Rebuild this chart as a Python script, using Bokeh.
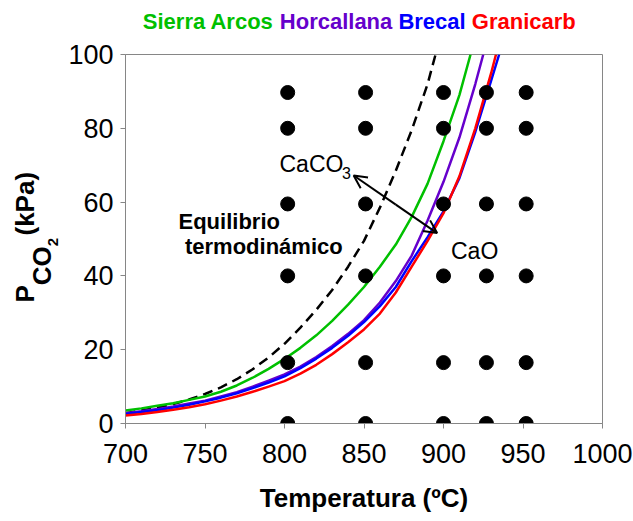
import math
from bokeh.plotting import figure
from bokeh.layouts import column, row
from bokeh.models import Arrow, OpenHead, Range1d, FixedTicker
from bokeh.core.properties import value
from bokeh.embed import file_html
from bokeh.resources import INLINE

FONT = "Liberation Sans"

# ---- data ----
x_ticks = [700, 750, 800, 850, 900, 950, 1000]
y_ticks = [0, 20, 40, 60, 80, 100]

# experimental conditions (grid of points)
exp_T = [802, 851, 900, 927, 952]
exp_P = [0, 16.5, 40, 59.5, 80, 89.7]

# thermodynamic equilibrium (dashed)
eq_T = [700, 710, 720, 730, 740, 750, 760, 770, 780, 790, 800, 810, 820, 830, 840,
        850, 860, 870, 880, 890, 895]
eq_P = [2.8, 3.5, 4.3, 5.3, 6.5, 8.0, 9.8, 12.0, 14.7, 17.9, 21.6, 26, 30.8, 36.2, 42.5,
        49.5, 58.5, 68.5, 79.5, 92, 100]

# Sierra Arcos
sa_T = [700, 710, 720, 730, 740, 750, 760, 770, 780, 790, 800, 810, 820, 830, 840,
        850, 860, 870, 880, 890, 900, 910, 917]
sa_P = [3.5, 4.1, 4.8, 5.5, 6.4, 7.3, 8.6, 10.3, 12.4, 14.8, 17.5, 20.5, 23.9, 27.8, 32.2,
        37, 42.5, 48.5, 56, 65, 76.5, 89, 100]

# Horcallana
ho_T = [700, 710, 720, 730, 740, 750, 760, 770, 780, 790, 800, 810, 820, 830, 840,
        850, 860, 870, 880, 890, 900, 910, 920, 925]
ho_P = [2.8, 3.3, 3.9, 4.6, 5.4, 6.2, 7.3, 8.5, 10.0, 11.6, 13.3, 15.4, 18.0, 21.0, 24.3,
        28, 32.8, 38.6, 45.5, 55, 65.5, 77.5, 92, 100]

# Brecal
br_T = [700, 710, 720, 730, 740, 750, 760, 770, 780, 790, 800, 810, 820, 830, 840,
        850, 860, 870, 880, 890, 900, 910, 920, 930, 935]
br_P = [2.6, 3.1, 3.6, 4.3, 5.1, 6.0, 7.0, 8.2, 9.6, 11.1, 12.8, 15.0, 17.6, 20.5, 23.8,
        27.5, 31.8, 37, 44, 50.5, 57.5, 66.5, 79, 93, 100]

# Granicarb
gr_T = [700, 710, 720, 730, 740, 750, 760, 770, 780, 790, 800, 810, 820, 830, 840,
        850, 860, 870, 880, 890, 900, 910, 920, 930, 933]
gr_P = [2.2, 2.6, 3.1, 3.7, 4.4, 5.2, 6.2, 7.3, 8.6, 10.0, 11.5, 13.5, 15.9, 18.8, 22.0,
        25.5, 29.8, 35.5, 42.5, 49.5, 57, 67, 80, 95, 100]

series_names = ["Sierra Arcos", "Horcallana", "Brecal", "Granicarb"]
series_colors = ["#00C000", "#6600CC", "#0000FF", "#FF0000"]

# ---- layout geometry (page pixels) ----
W, H = 633, 521
TOP_H = 36          # height of the title strip
YL_W = 60           # width of the y-title strip
F_L, F_T, F_R, F_B = 125, 54, 602, 423   # plot frame
MID = 0.3465        # distance (em) from baseline to text-box middle

X_RANGE = Range1d(700, 1000)
Y_RANGE = Range1d(0, 100)


def dx(px):
    return 700 + (px - F_L) * 300 / (F_R - F_L)


def dy(py):
    return (F_B - py) * 100 / (F_B - F_T)


def strip(w, h, x_range, y_range):
    f = figure(width=w, height=h, x_range=x_range, y_range=y_range,
               output_backend="svg", toolbar_location=None, min_border=0,
               x_axis_type=None, y_axis_type=None, title=None)
    f.outline_line_color = None
    f.xgrid.visible = False
    f.ygrid.visible = False
    return f


# ---- title strip with coloured words (data space = page pixels, y upward) ----
t = strip(W, TOP_H, Range1d(0, W), Range1d(0, TOP_H))
title_x = [142.3, 279.3, 397.9, 471.3]
title_base = 28.3
t.text(x=title_x, y=[TOP_H - (title_base - MID * 22)] * 4, text=series_names,
       text_color=series_colors, text_font=value(FONT), text_font_size="22px",
       text_font_style="bold", text_align="left", text_baseline="middle")

# ---- y title strip (shares the vertical data range with the plot) ----
yh = H - TOP_H
yl = strip(YL_W, yh, Range1d(0, YL_W), Y_RANGE)
ylab_text = ["P", "CO", "2", "(kPa)"]
ylab_size_px = [26, 26, 15, 26]
ylab_base_x = [33.5, 50.5, 57.5, 33.5]       # baseline position (page px)
ylab_x = [b - MID * s for b, s in zip(ylab_base_x, ylab_size_px)]
ylab_y = [dy(302), dy(284.7), dy(245.7), dy(235)]
yl.text(x=ylab_x, y=ylab_y, text=ylab_text, angle=math.pi / 2,
        text_font=value(FONT), text_font_size=[f"{s}px" for s in ylab_size_px],
        text_font_style="bold", text_color="black", text_align="left",
        text_baseline="middle")

# ---- main plot ----
pw = W - YL_W
p = figure(width=pw, height=yh, x_range=X_RANGE, y_range=Y_RANGE,
           output_backend="svg", toolbar_location=None,
           min_border_left=F_L - YL_W, min_border_right=W - F_R,
           min_border_top=F_T - TOP_H, min_border_bottom=yh - (F_B - TOP_H))
p.xgrid.visible = False
p.ygrid.visible = False
p.outline_line_color = "#868686"
p.outline_line_width = 1

for ax, ticks in ((p.xaxis, x_ticks), (p.yaxis, y_ticks)):
    ax.ticker = FixedTicker(ticks=ticks)
    ax.axis_line_color = "#868686"
    ax.major_tick_line_color = "#868686"
    ax.major_tick_out = 5
    ax.major_tick_in = 0
    ax.minor_tick_out = 0
    ax.minor_tick_in = 0
    ax.major_label_text_font = FONT
    ax.major_label_text_font_size = "27px"
    ax.major_label_text_color = "black"
p.xaxis.major_label_standoff = 15
p.yaxis.major_label_standoff = 7
p.xaxis.axis_label = "Temperatura (ºC)"
p.xaxis.axis_label_text_font = FONT
p.xaxis.axis_label_text_font_size = "26px"
p.xaxis.axis_label_text_font_style = "bold"
p.xaxis.axis_label_text_color = "black"
p.xaxis.axis_label_standoff = 17

# curves
p.line(eq_T, eq_P, line_color="black", line_width=2.5, line_dash="10 6",
       line_join="round")
for T, P, c in ((sa_T, sa_P, series_colors[0]), (ho_T, ho_P, series_colors[1]),
                (br_T, br_P, series_colors[2]), (gr_T, gr_P, series_colors[3])):
    p.line(T, P, line_color=c, line_width=2.5, line_join="round")

# experimental points
pts_T = [tt for tt in exp_T for _ in exp_P]
pts_P = [v for _ in exp_T for v in exp_P]
p.scatter(pts_T, pts_P, size=14, color="black")

# double-headed arrow CaCO3 <-> CaO
arrow_mid = (870, 59.3)
arrow_ends = [(843.5, 67.2), (896, 51.6)]
for xe, ye in arrow_ends:
    p.add_layout(Arrow(x_start=arrow_mid[0], y_start=arrow_mid[1], x_end=xe, y_end=ye,
                       line_width=2, line_color="black",
                       end=OpenHead(size=13, line_width=2, line_color="black")))

# in-plot labels
lab_text = ["CaCO", "3", "CaO", "Equilibrio", "termodinámico"]
lab_size_px = [23, 16, 23, 22, 22]
lab_base_y = [171.7, 178.3, 258.3, 228.3, 253.3]     # baselines (page px)
lab_x = [dx(279), dx(341.5), dx(450.5), dx(178), dx(184.5)]
lab_y = [dy(b - MID * s) for b, s in zip(lab_base_y, lab_size_px)]
lab_style = ["normal", "normal", "normal", "bold", "bold"]
p.text(x=lab_x, y=lab_y, text=lab_text, text_font=value(FONT),
       text_font_size=[f"{s}px" for s in lab_size_px],
       text_font_style=lab_style, text_color="black", text_align="left",
       text_baseline="middle")

layout = column(t, row(yl, p, spacing=0), spacing=0)
open("out.html", "w").write(file_html(layout, INLINE))
